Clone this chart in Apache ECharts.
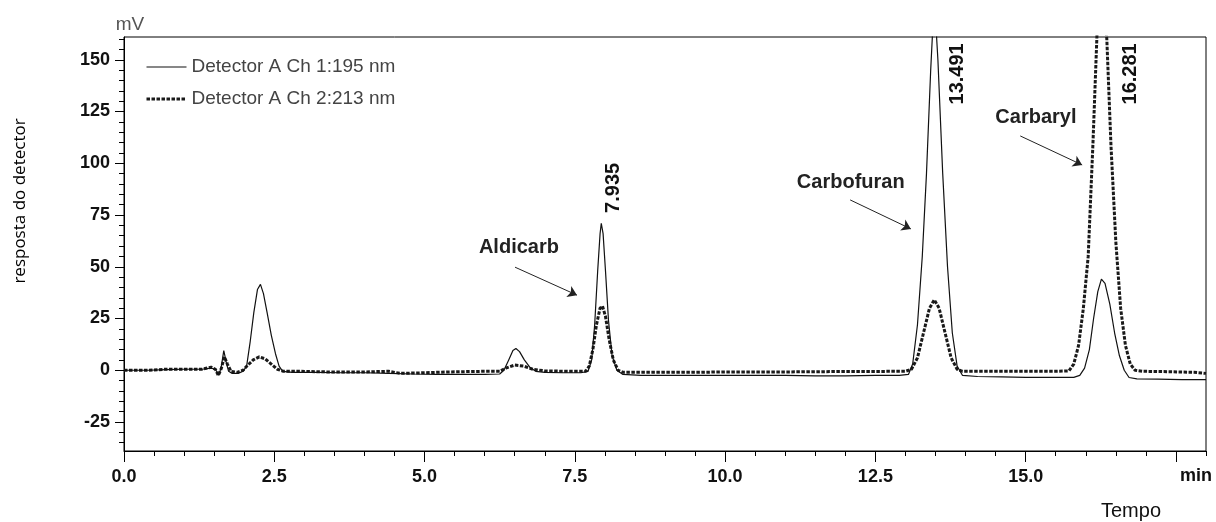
<!DOCTYPE html>
<html><head><meta charset="utf-8">
<script src="https://cdn.jsdelivr.net/npm/echarts@6/dist/echarts.min.js"></script>
<style>html,body{margin:0;padding:0;background:#fff}#c{width:1216px;height:522px}</style>
</head><body><div id="c"></div>
<script>
// ---- data (time in min, response in mV) ----
const seriesNames = ['Detector A Ch 1:195 nm', 'Detector A Ch 2:213 nm'];
const ch1 = [[0.00,0.0],[0.40,0.0],[0.70,0.3],[1.00,0.5],[1.30,0.5],[1.45,1.0],[1.52,0.5],[1.58,-2.5],[1.62,2],[1.66,9.5],[1.70,4],[1.74,-0.5],[1.80,-1.5],[1.90,-1.5],[1.98,-0.5],[2.04,2],[2.10,14],[2.16,28],[2.22,39],[2.27,41.5],[2.32,37],[2.38,28],[2.45,17],[2.52,8],[2.58,2],[2.64,-0.5],[2.80,-1],[3.20,-1],[3.60,-1.2],[4.00,-1.2],[4.40,-1.5],[4.80,-1.8],[5.20,-2],[5.60,-2],[6.00,-2],[6.25,-1.8],[6.32,0],[6.40,5],[6.47,9.5],[6.52,10.5],[6.58,9],[6.66,5],[6.75,1.5],[6.85,-0.5],[7.00,-1],[7.30,-1.2],[7.60,-1.2],[7.72,-0.5],[7.78,5],[7.83,22],[7.88,48],[7.92,66],[7.94,71],[7.97,66],[8.01,48],[8.06,24],[8.12,7],[8.20,0],[8.30,-2],[8.60,-2.5],[9.00,-2.5],[9.50,-2.5],[10.00,-2.5],[10.50,-2.5],[11.00,-2.5],[11.50,-2.7],[12.00,-2.7],[12.50,-2.5],[12.90,-2.5],[13.05,-2],[13.12,3],[13.20,22],[13.28,55],[13.35,95],[13.42,145],[13.48,180],[13.54,150],[13.62,95],[13.70,50],[13.78,18],[13.86,2],[13.95,-2.5],[14.20,-3],[14.60,-3.2],[15.00,-3.4],[15.40,-3.4],[15.80,-3.4],[15.90,-2.5],[15.98,1],[16.06,10],[16.13,25],[16.20,38],[16.26,44],[16.32,42],[16.40,32],[16.48,18],[16.56,7],[16.64,0],[16.72,-3.5],[16.85,-4.2],[17.20,-4.3],[17.60,-4.5],[18.00,-4.5]];
const ch2 = [[0.00,0.0],[0.40,0.0],[0.70,0.5],[1.00,0.5],[1.30,0.5],[1.45,1.5],[1.52,0.5],[1.57,-2.5],[1.62,1],[1.67,6.5],[1.72,3],[1.78,-0.5],[1.88,-1],[1.98,0],[2.06,2.5],[2.15,5],[2.25,6.5],[2.35,5.5],[2.45,3],[2.55,0.5],[2.65,-0.5],[2.90,-0.5],[3.40,-0.8],[4.00,-0.8],[4.40,-0.5],[4.60,-1.5],[5.00,-1.2],[5.40,-0.8],[6.00,-0.5],[6.25,-0.5],[6.35,1],[6.50,2.5],[6.65,2],[6.80,0.5],[7.00,-0.3],[7.40,-0.5],[7.68,-0.5],[7.74,2],[7.80,10],[7.86,22],[7.92,30],[7.96,31],[8.01,26],[8.07,15],[8.14,5],[8.22,0],[8.30,-1],[8.80,-1],[9.50,-1],[10.00,-0.8],[11.00,-0.8],[12.00,-0.6],[13.00,-0.5],[13.10,0.5],[13.20,6],[13.30,18],[13.40,30],[13.48,34],[13.56,30],[13.66,18],[13.76,6],[13.86,0.5],[13.95,-0.5],[14.50,-0.5],[15.00,-0.5],[15.50,-0.5],[15.72,-0.3],[15.80,3],[15.88,12],[15.96,30],[16.04,55],[16.12,110],[16.19,165],[16.27,192],[16.35,160],[16.42,108],[16.50,62],[16.58,30],[16.66,12],[16.74,3],[16.82,0],[16.95,-0.5],[17.40,-0.7],[17.80,-1],[18.00,-1.5]];

// ---- ticks ----
const xMajorTicks = [0, 2.5, 5, 7.5, 10, 12.5, 15, 17.5];
const xLabels = [0, 2.5, 5, 7.5, 10, 12.5, 15];
const yMajor = [-25, 0, 25, 50, 75, 100, 125, 150];
const yMinor = [-35,-30,-25,-20,-15,-10,-5,0,5,10,15,20,25,30,35,40,45,50,55,60,65,70,75,80,85,90,95,100,105,110,115,120,125,130,135,140,145,150,155,160];

// ---- annotations (data coordinates) ----
const compoundNames = ['Aldicarb', 'Carbofuran', 'Carbaryl'];
const compoundLabelPos = [[6.57, 59.5], [12.09, 90.5], [15.17, 121.9]];
const arrowFrom = [[6.505, 49.8], [12.08, 82.3], [14.91, 113.2]];
const arrowTo = [[7.536, 36.3], [13.09, 68.3], [15.94, 99.2]];
const peakTimes = ['7.935', '13.491', '16.281'];
const peakLabelPos = [[8.15, 88.1], [13.86, 143.2], [16.74, 143.2]];

const tickFont = {fontFamily: '"Liberation Sans", Arial, sans-serif', fontWeight: 'bold', fontSize: 18, color: '#111'};

const option = {
  animation: false,
  grid: {left: 124, right: 10, top: 37, bottom: 71, show: true, borderColor: '#000', borderWidth: 1, backgroundColor: 'transparent'},
  legend: {
    orient: 'vertical', left: 140, top: 51, itemWidth: 40, itemHeight: 14, itemGap: 10, itemTextGap: 13,
    itemStyle: {opacity: 0},
    data: [
      {name: seriesNames[0], itemStyle: {opacity: 0}, lineStyle: {width: 1.2, color: '#111', type: 'solid'}},
      {name: seriesNames[1], itemStyle: {opacity: 0}, lineStyle: {width: 3, color: '#1a1a1a', type: [3.5, 1.5]}}
    ],
    textStyle: {fontFamily: '"Liberation Sans", Arial, sans-serif', fontSize: 19, lineHeight: 22, color: '#444'}
  },
  xAxis: [
    {type: 'value', min: 0, max: 18, interval: 0.5, position: 'bottom',
     axisLine: {show: true, onZero: false, lineStyle: {color: '#000', width: 1}},
     axisTick: {show: true, length: 5, inside: false, lineStyle: {color: '#000'}},
     axisLabel: {show: false}, splitLine: {show: false}},
    {type: 'value', min: 0, max: 18, position: 'bottom',
     axisLine: {show: false, onZero: false},
     axisTick: {show: true, length: 11, customValues: xMajorTicks, lineStyle: {color: '#000'}},
     axisLabel: Object.assign({show: true, margin: 17, customValues: xLabels, formatter: v => Number(v).toFixed(1)}, tickFont),
     splitLine: {show: false}}
  ],
  yAxis: [
    {type: 'value', min: -39, max: 161, position: 'left',
     axisLine: {show: true, onZero: false, lineStyle: {color: '#000', width: 1}},
     axisTick: {show: true, length: 5, customValues: yMinor, lineStyle: {color: '#000'}},
     axisLabel: {show: false}, splitLine: {show: false}},
    {type: 'value', min: -39, max: 161, position: 'left',
     axisLine: {show: false, onZero: false},
     axisTick: {show: true, length: 9, customValues: yMajor, lineStyle: {color: '#000'}},
     axisLabel: Object.assign({show: true, margin: 14, customValues: yMajor, formatter: v => String(v)}, tickFont),
     splitLine: {show: false}}
  ],
  series: [
    {name: seriesNames[0], type: 'line', xAxisIndex: 0, yAxisIndex: 0, data: ch1, symbol: 'none', z: 3,
     lineStyle: {color: '#111', width: 1.2}, itemStyle: {color: '#111'},
     markLine: {
       silent: true, symbol: ['none', 'arrow'], symbolSize: 9, label: {show: false},
       lineStyle: {color: '#222', width: 1, type: 'solid'}, itemStyle: {color: '#222'},
       emphasis: {disabled: true},
       data: arrowFrom.map((p, i) => [{coord: p}, {coord: arrowTo[i]}])
     }},
    {name: seriesNames[1], type: 'line', xAxisIndex: 0, yAxisIndex: 0, data: ch2, symbol: 'none', z: 2,
     lineStyle: {color: '#1a1a1a', width: 3, type: [3.5, 1.5]}, itemStyle: {color: '#1a1a1a'}}
  ]
};

const chart = echarts.init(document.getElementById('c'), null, {renderer: 'canvas'});
chart.setOption(option);

const g = [];
compoundNames.forEach((n, i) => {
  const p = chart.convertToPixel({seriesIndex: 0}, compoundLabelPos[i]);
  g.push({type: 'text', x: p[0], y: p[1], silent: true,
    style: {text: n, fontFamily: '"Liberation Sans", Arial, sans-serif', fontWeight: 'bold', fontSize: 20, fill: '#222', align: 'center', verticalAlign: 'middle'}});
});
peakTimes.forEach((t, i) => {
  const p = chart.convertToPixel({seriesIndex: 0}, peakLabelPos[i]);
  g.push({type: 'text', x: p[0], y: p[1], rotation: Math.PI / 2, silent: true,
    style: {text: t, fontFamily: '"Liberation Sans", Arial, sans-serif', fontWeight: 'bold', fontSize: 20, fill: '#111', align: 'center', verticalAlign: 'middle'}});
});
g.push({type: 'text', x: 130, y: 25, silent: true,
  style: {text: 'mV', fontFamily: '"Liberation Sans", Arial, sans-serif', fontSize: 19, fill: '#555', align: 'center', verticalAlign: 'middle'}});
g.push({type: 'text', x: 20, y: 201, rotation: Math.PI / 2, silent: true,
  style: {text: 'resposta do detector', fontFamily: '"Open Sans", "Noto Sans", sans-serif', fontSize: 17, fill: '#000', align: 'center', verticalAlign: 'middle'}});
g.push({type: 'text', x: 1196, y: 476, silent: true,
  style: {text: 'min', fontFamily: '"Liberation Sans", Arial, sans-serif', fontWeight: 'bold', fontSize: 18, fill: '#111', align: 'center', verticalAlign: 'middle'}});
g.push({type: 'text', x: 1131, y: 511, silent: true,
  style: {text: 'Tempo', fontFamily: '"Liberation Sans", Arial, sans-serif', fontSize: 20, fill: '#111', align: 'center', verticalAlign: 'middle'}});
chart.setOption({graphic: g});
</script>
</body></html>
